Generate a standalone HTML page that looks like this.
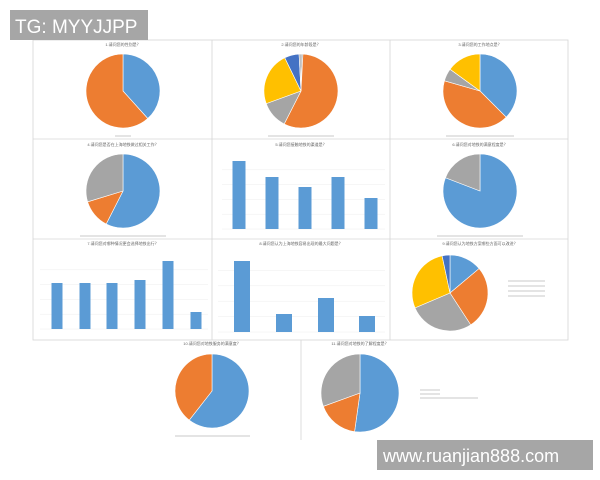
<!DOCTYPE html>
<html><head><meta charset="utf-8"><style>
html,body{margin:0;padding:0;background:#fff;}
svg{display:block}
text{font-family:"Liberation Sans","Noto Sans CJK SC",sans-serif;}
</style></head><body>
<svg id="s" width="600" height="480" viewBox="0 0 600 480" xmlns="http://www.w3.org/2000/svg">
<rect width="600" height="480" fill="#fff"/>
<g stroke="#d6d6d6" stroke-width="0.8" fill="none">
<rect x="33" y="40" width="535" height="300"/>
<line x1="33" y1="139" x2="568" y2="139"/>
<line x1="33" y1="239" x2="568" y2="239"/>
<line x1="212" y1="40" x2="212" y2="340"/>
<line x1="390" y1="40" x2="390" y2="340"/>
<line x1="301" y1="340" x2="301" y2="440"/>
</g>
<g id="g"></g>
<g font-size="4" fill="#666" text-anchor="middle">
<text x="123" y="46">1.请问您的性别是？</text>
<text x="301" y="46">2.请问您的年龄段是？</text>
<text x="480" y="46">3.请问您的工作地点是？</text>
<text x="123" y="146">4.请问您是否在上海地铁做过相关工作？</text>
<text x="301" y="146">5.请问您接触地铁的渠道是？</text>
<text x="480" y="146">6.请问您对地铁的满意程度是？</text>
<text x="123" y="245">7.请问您对哪种情况更会选择地铁出行？</text>
<text x="301" y="245">8.请问您认为上海地铁容易出现的最大问题是？</text>
<text x="480" y="245">9.请问您认为地铁方案哪些方面可以改进？</text>
<text x="212" y="345">10.请问您对地铁服务的满意度？</text>
<text x="360" y="345">11.请问您对地铁的了解程度是？</text>
</g>
<g stroke="#c8c8c8" stroke-width="1">
<line x1="115" y1="136" x2="131" y2="136"/>
<line x1="268" y1="136" x2="334" y2="136"/>
<line x1="446" y1="136" x2="514" y2="136"/>
<line x1="80" y1="236" x2="166" y2="236"/>
<line x1="437" y1="236" x2="523" y2="236"/>
<line x1="175" y1="436" x2="250" y2="436"/>
<line x1="508" y1="281" x2="545" y2="281"/>
<line x1="508" y1="286" x2="545" y2="286"/>
<line x1="508" y1="291" x2="545" y2="291"/>
<line x1="508" y1="296" x2="545" y2="296"/>
<line x1="420" y1="390" x2="440" y2="390"/>
<line x1="420" y1="394" x2="440" y2="394"/>
<line x1="420" y1="398" x2="478" y2="398"/>
</g>
<rect x="10" y="10" width="138" height="30" fill="#a6a6a6"/>
<text x="15" y="33" font-size="19" fill="#fff">TG: MYYJJPP</text>
<rect x="377" y="440" width="216" height="30" fill="#a6a6a6"/>
<text x="383" y="462" font-size="18" fill="#fff">www.ruanjian888.com</text>
</svg>
<script>
var g=document.getElementById('g'),NS='http://www.w3.org/2000/svg';
var B='#5b9bd5',O='#ed7d31',G='#a5a5a5',Y='#ffc000',D='#4472c4';
function el(t,a){var e=document.createElementNS(NS,t);for(var k in a)e.setAttribute(k,a[k]);g.appendChild(e);return e;}
function pie(cx,cy,r,sl){var a0=0;sl.forEach(function(s){var a1=s[0];
var p=function(a){a=a*Math.PI/180;return [cx+r*Math.sin(a),cy-r*Math.cos(a)];};
var A=p(a0),Bp=p(a1);var large=(a1-a0)>180?1:0;
el('path',{d:'M'+cx+','+cy+'L'+A[0]+','+A[1]+'A'+r+','+r+' 0 '+large+' 1 '+Bp[0]+','+Bp[1]+'Z',fill:s[1],stroke:'#fff','stroke-width':0.6});a0=a1;});}
pie(123,91,37,[[138,B],[360,O]]);
pie(301,91,37,[[3,G],[207,O],[250,G],[334,Y],[357,D],[360,G]]);
pie(480,91,37,[[135,B],[286,O],[306,G],[360,Y]]);
pie(123,191,37,[[207,B],[253,O],[360,G]]);
pie(480,191,37,[[291,B],[360,G]]);
pie(450,293,38,[[50,B],[147,O],[247,G],[348,Y],[360,D]]);
pie(212,391,37,[[218,B],[360,O]]);
pie(360,393,39,[[188,B],[250,O],[360,G]]);
function bars(base,w,xs,tops,x0,x1,top){
for(var i=0;i<5;i++){var y=base-(base-top)*i/5;el('line',{x1:x0,x2:x1,y1:y,y2:y,stroke:'#eee','stroke-width':0.5});}
xs.forEach(function(x,i){el('rect',{x:x-w/2,y:tops[i],width:w,height:base-tops[i],fill:B});});}
bars(229,13,[239,272,305,338,371],[161,177,187,177,198],222,385,155);
bars(329,11,[57,85,112,140,168,196],[283,283,283,280,261,312],40,208,255);
bars(332,16,[242,284,326,367],[261,314,298,316],218,385,255);
</script>
</body></html>
